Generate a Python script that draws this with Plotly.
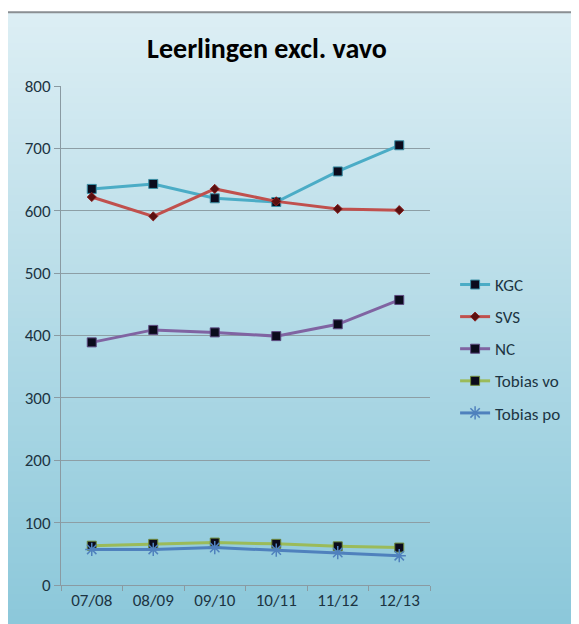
import plotly.graph_objects as go

categories = ["07/08", "08/09", "09/10", "10/11", "11/12", "12/13"]
kgc = [635, 643, 620, 614, 663, 705]
svs = [622, 591, 635, 615, 603, 601]
nc = [389, 409, 405, 399, 418, 457]
tobias_vo = [63, 66, 68, 66, 62, 60]
tobias_po = [57, 57, 60, 56, 52, 47]
y_ticks = [0, 100, 200, 300, 400, 500, 600, 700, 800]

FONT = "Calibri, Carlito, Lato, sans-serif"
TXT = "#1c3442"

fig = go.Figure()

series = [
    ("KGC", kgc, "#4bacc6", "square", "#0b0b1c", "#3a8fa6", 9),
    ("SVS", svs, "#c0504d", "diamond", "#5a1010", "#8a2020", 7),
    ("NC", nc, "#8064a2", "square", "#0b0b1c", "#5e4a80", 9),
    ("Tobias vo", tobias_vo, "#9bbb59", "square", "#0b0b1c", "#6f8a3a", 9),
]
for i, (name, vals, lc, sym, mc, mlc, ms) in enumerate(series):
    fig.add_trace(go.Scatter(
        x=categories, y=vals, name=name, mode="lines+markers",
        line=dict(color=lc, width=3),
        marker=dict(symbol=sym, size=ms, color=mc, line=dict(color=mlc, width=1)),
        legendgroup=f"g{i}",
    ))
fig.add_trace(go.Scatter(
    x=categories, y=tobias_po, name="Tobias po", mode="lines+markers",
    line=dict(color="#4f81bd", width=3),
    marker=dict(symbol="asterisk-open", size=11, color="#4f81bd",
                line=dict(color="#4f81bd", width=1.5)),
    legendgroup="g4",
))

# gradient background (styling only)
top = (0xdc, 0xee, 0xf4)
bot = (0x8c, 0xc8, 0xda)
y_top, y_bot = 1.148, -0.08
n = 80
shapes = []
for k in range(n):
    t = k / (n - 1)
    c = tuple(round(top[j] + (bot[j] - top[j]) * t) for j in range(3))
    ya = y_top + (y_bot - y_top) * k / n
    yb = y_top + (y_bot - y_top) * (k + 1) / n
    shapes.append(dict(type="rect", xref="paper", yref="paper",
                       x0=-0.149, x1=1.41, y0=yb - 0.001, y1=ya + 0.001,
                       fillcolor="rgb(%d,%d,%d)" % c, line=dict(width=0),
                       layer="below"))
shapes.append(dict(type="rect", xref="paper", yref="paper",
                   x0=-0.149, x1=1.41, y0=y_bot, y1=y_top,
                   fillcolor="rgba(0,0,0,0)", line=dict(color="#8a8f92", width=2),
                   layer="below"))

fig.update_layout(
    width=571, height=616,
    margin=dict(l=53, r=149, t=78, b=39),
    paper_bgcolor="white",
    plot_bgcolor="rgba(0,0,0,0)",
    shapes=shapes,
    font=dict(family=FONT, size=17, color=TXT),
    title=dict(text="<b>Leerlingen excl. vavo</b>", x=0.4536, xanchor="center",
               y=0.935, yanchor="middle",
               font=dict(family=FONT, size=28, color="#000000")),
    showlegend=True,
    legend=dict(x=1.068, xanchor="left", y=0.473, yanchor="middle",
                bgcolor="rgba(0,0,0,0)", tracegroupgap=7,
                font=dict(family=FONT, size=17, color=TXT)),
    xaxis=dict(type="category", showgrid=False, showline=True,
               linecolor="#8a9aa2", linewidth=1, ticks="outside",
               tickson="boundaries", ticklen=5, tickcolor="#8a9aa2",
               tickfont=dict(family=FONT, size=17, color=TXT),
               range=[-0.5, 5.5]),
    yaxis=dict(range=[0, 800], tickvals=y_ticks, showgrid=True,
               gridcolor="#8d9ea5", gridwidth=1, showline=True,
               linecolor="#8a9aa2", linewidth=1, ticks="outside",
               ticklen=6, tickcolor="#8a9aa2", zeroline=False,
               tickfont=dict(family=FONT, size=17, color=TXT)),
)

fig.write_html("out.html")
